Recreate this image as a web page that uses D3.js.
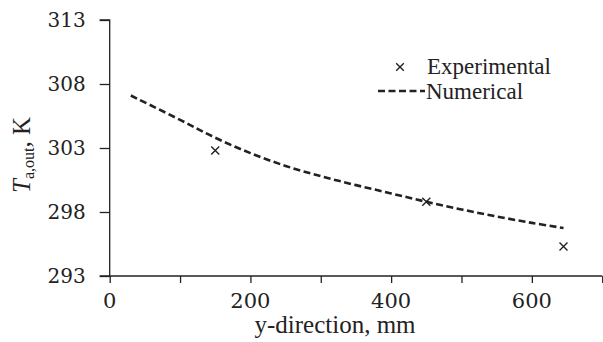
<!DOCTYPE html>
<html>
<head>
<meta charset="utf-8">
<script src="https://cdn.jsdelivr.net/npm/d3@7"></script>
<style>
  html, body { margin: 0; padding: 0; background: #fff; }
  svg { display: block; }
  .lbl { font-family: "Liberation Serif", serif; fill: #222; }
  .num { font-family: "DejaVu Serif", serif; fill: #222; }
</style>
</head>
<body>
<svg id="chart" width="603" height="342"></svg>
<script>
// Outlet air temperature along the y-direction
const numX = [30, 100, 150, 200, 250, 300, 350, 400, 450, 500, 550, 600, 645];
const numT = [307.1, 305.2, 303.8, 302.6, 301.6, 300.8, 300.1, 299.45, 298.8, 298.2, 297.65, 297.15, 296.75];
const expX = [150, 450, 645];
const expT = [302.8, 298.8, 295.3];
const xTicks = [0, 100, 200, 300, 400, 500, 600, 700];
const xTickLabels = [0, 200, 400, 600];
const yTicks = [293, 298, 303, 308, 313];
const legendLabels = ["Experimental", "Numerical"];

const svg = d3.select("#chart");
const x = d3.scaleLinear().domain([0, 700]).range([109.7, 602.2]);
const y = d3.scaleLinear().domain([293, 313]).range([276, 20]);
const ink = "#222";

// y axis (lines from d3.axisLeft, labels placed with the same scale)
const yAxis = svg.append("g").attr("transform", `translate(${x(0)},0)`)
  .call(d3.axisLeft(y).tickValues(yTicks).tickSize(10).tickFormat(""));
yAxis.select(".domain").attr("stroke", ink).attr("stroke-width", 1.3).attr("d", `M-10,${y(313)}H0V${y(293)}H-10`);
yAxis.selectAll(".tick line").attr("stroke", ink).attr("stroke-width", 1.3);
svg.append("g").selectAll("text").data(yTicks).join("text")
  .attr("class", "num").attr("x", x(0) - 24).attr("y", d => y(d)).attr("dy", "0.36em")
  .attr("text-anchor", "end").style("font-size", "20px").text(d => String(d));

// x axis
const xAxis = svg.append("g").attr("transform", `translate(0,${y(293)})`)
  .call(d3.axisBottom(x).tickValues(xTicks).tickSize(7).tickFormat(""));
xAxis.select(".domain").attr("stroke", ink).attr("stroke-width", 1.3).attr("d", `M${x(0)},0H${x(700)}`);
xAxis.selectAll(".tick line").attr("stroke", ink).attr("stroke-width", 1.3);
svg.append("g").selectAll("text").data(xTickLabels).join("text")
  .attr("class", "num").attr("x", d => x(d)).attr("y", y(293) + 32)
  .attr("text-anchor", "middle").style("font-size", "21px").text(d => String(d));

// axis titles
svg.append("text").attr("class", "lbl").attr("x", 335).attr("y", 333).attr("text-anchor", "middle")
  .style("font-size", "25px").text("y-direction, mm");

const yt = svg.append("text").attr("class", "lbl").attr("text-anchor", "middle")
  .attr("transform", "translate(30,155) rotate(-90)").style("font-size", "25px");
yt.append("tspan").attr("font-style", "italic").text("T");
yt.append("tspan").style("font-size", "16px").attr("dy", 4).text("a,out");
yt.append("tspan").attr("dy", -4).text(", K");

// numerical curve
const line = d3.line().x((d, i) => x(numX[i])).y(d => y(d)).curve(d3.curveCatmullRom);
svg.append("path").datum(numT).attr("d", line)
  .attr("fill", "none").attr("stroke", ink).attr("stroke-width", 2.6)
  .attr("stroke-dasharray", "7,3.5");

// experimental points
const cross = (g, cx, cy, r) => g.append("path")
  .attr("d", `M${cx - r},${cy - r}L${cx + r},${cy + r}M${cx - r},${cy + r}L${cx + r},${cy - r}`)
  .attr("stroke", ink).attr("stroke-width", 1.4).attr("fill", "none");
const pts = svg.append("g");
expX.forEach((v, i) => cross(pts, x(v), y(expT[i]), 4));

// legend
const lg = svg.append("g");
cross(lg, 400, 67, 3.8);
lg.append("text").attr("class", "lbl").attr("x", 427).attr("y", 74).style("font-size", "23px").text(legendLabels[0]);
lg.append("line").attr("x1", 378).attr("x2", 425).attr("y1", 91).attr("y2", 91)
  .attr("stroke", ink).attr("stroke-width", 2.6).attr("stroke-dasharray", "7,3.5");
lg.append("text").attr("class", "lbl").attr("x", 426).attr("y", 99).style("font-size", "23px").text(legendLabels[1]);
</script>
</body>
</html>
